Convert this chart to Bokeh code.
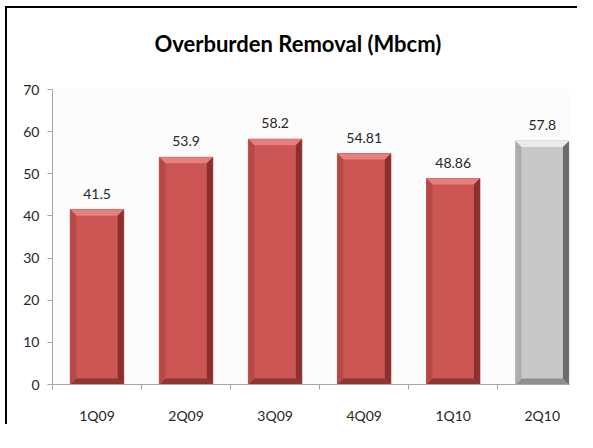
from bokeh.plotting import figure
from bokeh.models import FixedTicker, Range1d, ColumnDataSource, Title
from bokeh.embed import file_html
from bokeh.resources import INLINE

# ---- data ----
quarters = ["1Q09", "2Q09", "3Q09", "4Q09", "1Q10", "2Q10"]
removal = [41.5, 53.9, 58.2, 54.81, 48.86, 57.8]
value_labels = ["41.5", "53.9", "58.2", "54.81", "48.86", "57.8"]
y_ticks = [0, 10, 20, 30, 40, 50, 60, 70]
title_text = "Overburden Removal (Mbcm)"

# ---- styles ----
FONT = "Lato"
W, H = 570, 416
ML, MR, MT, MB = 45, 10, 81, 41
X_END = 5.806
Y_MAX = 70
frame_w = W - ML - MR
frame_h = H - MT - MB
px_x = frame_w / X_END
px_y = frame_h / Y_MAX
bar_w = 0.6
bevel = 6.0
dx = bevel / px_x
dy = bevel / px_y

red = dict(main="#CB5654", top="#E6807E", left="#B64846", right="#8A3130", bottom="#8C3634")
grey = dict(main="#C8C8C8", top="#EBEBEB", left="#ADADAD", right="#6C6C6C", bottom="#8E8E8E")
pal = [red, red, red, red, red, grey]

centers = [i + 0.5 for i in range(len(quarters))]

p = figure(width=W, height=H, output_backend="svg", toolbar_location=None,
           x_range=Range1d(0, X_END), y_range=Range1d(0, Y_MAX),
           min_border_left=ML, min_border_right=MR, min_border_top=MT,
           min_border_bottom=MB)
p.stylesheets = [":host { margin-left: 5px; margin-top: 6px; box-sizing: content-box; "
                 "border-top: 2px solid #000000; border-left: 2px solid #000000; }"]
p.outline_line_color = None
p.grid.visible = False
p.background_fill_color = "#FCFCFC"
p.border_fill_color = "white"

# real title (outer) and a spacer added after it (nearest the plot area)
p.title.text = title_text
p.title.text_font = FONT
p.title.text_font_style = "bold"
p.title.text_font_size = "22px"
p.title.text_color = "#000000"
p.title.text_line_height = 1.0
p.title.align = "left"
p.title.offset = 102
p.title.standoff = 4
p.add_layout(Title(text=" ", text_font_size="2px", standoff=27), "above")

# main bars
src = ColumnDataSource(dict(x=centers, top=removal, color=[c["main"] for c in pal]))
p.vbar(x="x", top="top", width=bar_w, color="color", source=src)

# bevel facets derived from values
xs, ys, cols = [], [], []
for c, v, col in zip(centers, removal, pal):
    l, r = c - bar_w / 2, c + bar_w / 2
    xs += [[l, r, r - dx, l + dx], [l, r, r - dx, l + dx],
           [l, l, l + dx, l + dx], [r, r, r - dx, r - dx]]
    ys += [[v, v, v - dy, v - dy], [0, 0, dy, dy],
           [0, v, v - dy, dy], [0, v, v - dy, dy]]
    cols += [col["top"], col["bottom"], col["left"], col["right"]]
p.patches(xs, ys, fill_color=cols, line_color=None)

# value labels
lab = ColumnDataSource(dict(x=centers, y=removal, t=value_labels))
p.text(x="x", y="y", text="t", source=lab, y_offset=-11,
       text_align="center", text_baseline="bottom",
       text_font_size="14px", text_color="#262626", text_font={"value": FONT})

# axes
xa = p.xaxis[0]
xa.ticker = FixedTicker(ticks=centers, minor_ticks=list(range(len(quarters))))
xa.major_label_overrides = {c: q for c, q in zip(centers, quarters)}
xa.major_tick_line_color = None
xa.minor_tick_line_color = "#A6A6A6"
xa.minor_tick_out = 5
xa.minor_tick_in = 0
xa.axis_line_color = "#A6A6A6"
xa.major_label_standoff = 16
xa.major_label_text_font = FONT
xa.major_label_text_font_size = "14px"
xa.major_label_text_color = "#262626"

ya = p.yaxis[0]
ya.ticker = FixedTicker(ticks=y_ticks, minor_ticks=[])
ya.axis_line_color = "#A6A6A6"
ya.major_tick_line_color = "#A6A6A6"
ya.major_tick_out = 5
ya.major_tick_in = 0
ya.minor_tick_line_color = None
ya.major_label_standoff = 8
ya.major_label_text_font = FONT
ya.major_label_text_font_size = "14px"
ya.major_label_text_color = "#262626"

open("out.html", "w").write(file_html(p, INLINE))
